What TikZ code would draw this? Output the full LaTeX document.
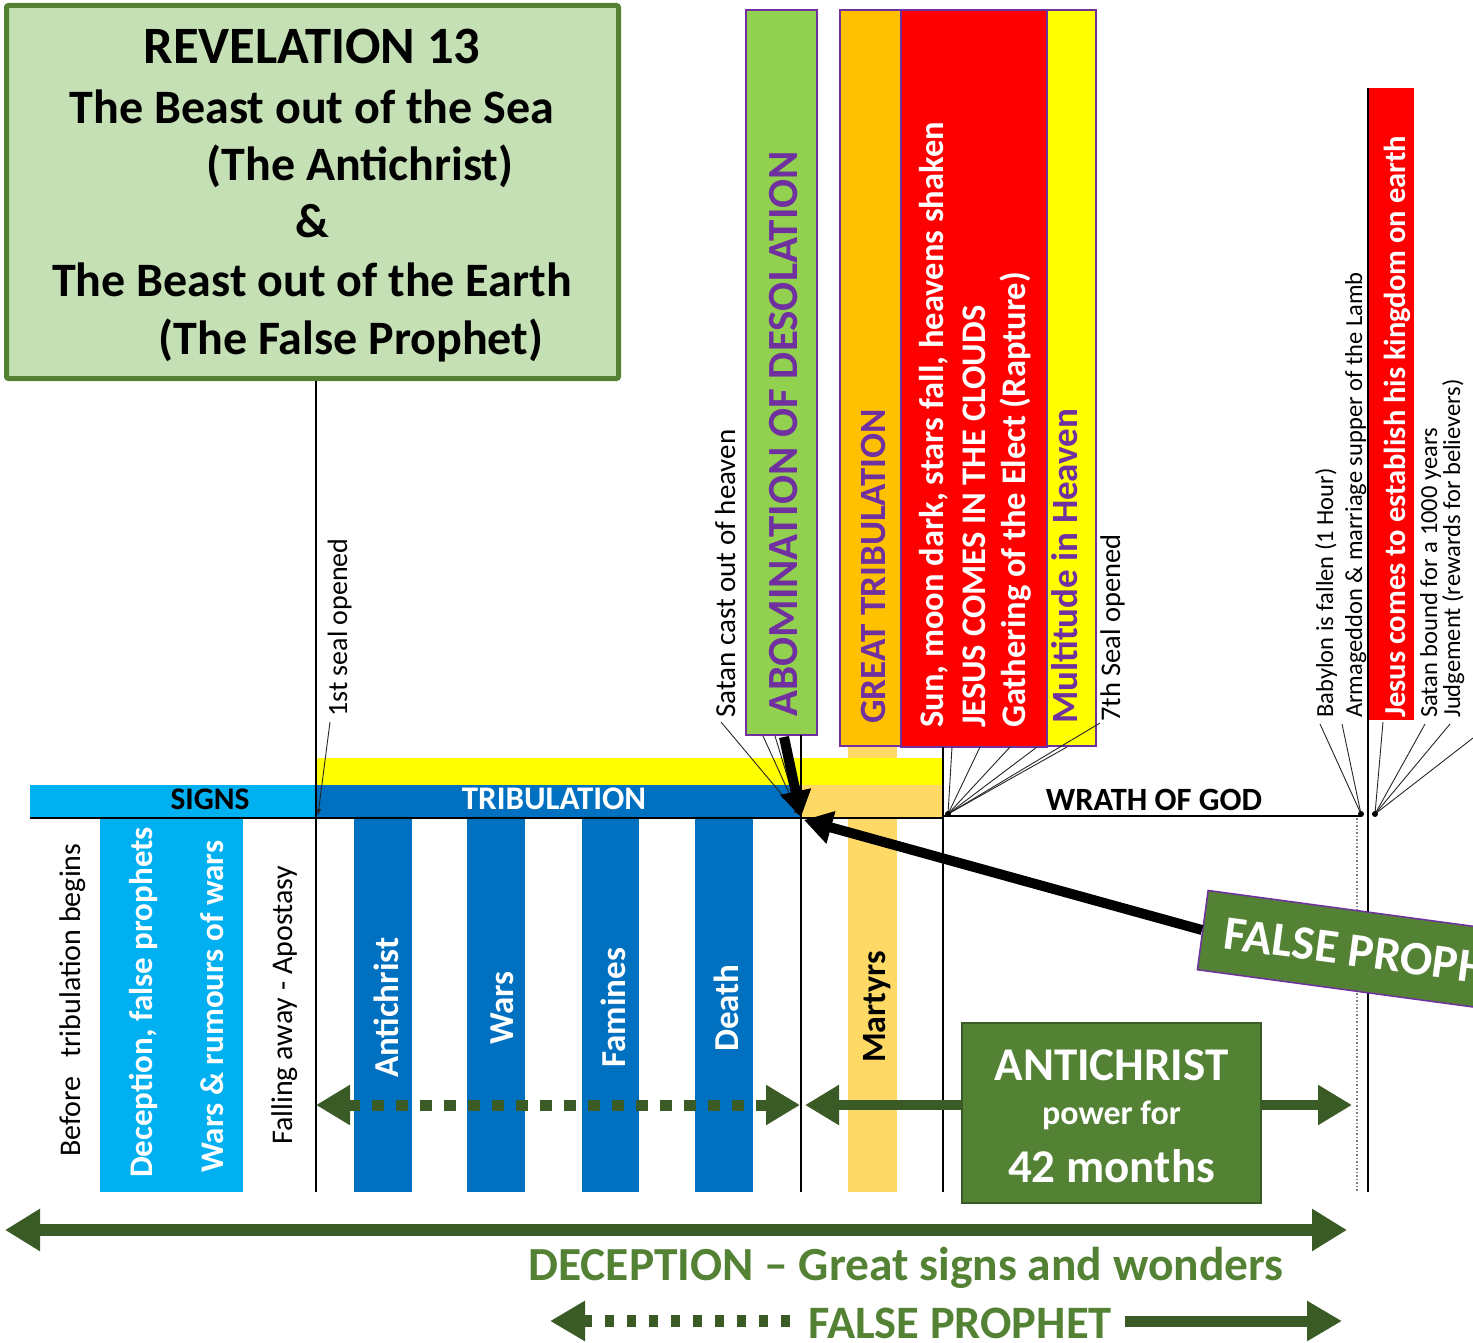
\documentclass[tikz,border=0pt]{standalone}
\usepackage{fontspec}
\setmainfont{Carlito}
\usetikzlibrary{arrows.meta}
\definecolor{sigblue}{HTML}{00B0F0}
\definecolor{tribblue}{HTML}{0070C0}
\definecolor{lorange}{HTML}{FFD966}
\definecolor{goldbox}{HTML}{FFC000}
\definecolor{abgreen}{HTML}{92D050}
\definecolor{purp}{HTML}{7030A0}
\definecolor{boxgreen}{HTML}{548235}
\definecolor{lgreen}{HTML}{C5E0B4}
\definecolor{dgreen}{HTML}{3A5A26}
\definecolor{txtgreen}{HTML}{548235}
\definecolor{redbox}{HTML}{FF0000}
\definecolor{yelbox}{HTML}{FFFF00}
\newcommand\fsz[1]{\fontsize{#1}{#1}\selectfont}
\begin{document}
\begin{tikzpicture}[x=1pt,y=-1pt,
  vlbl/.style={rotate=90,anchor=base west,inner sep=0pt},
  hlbl/.style={anchor=base,inner sep=0pt},
  ptr/.style={draw=black!85,line width=0.9pt},
  ptrtip/.style={ptr,-{Latex[length=6pt,width=5pt]}},
  vline/.style={draw=black,line width=2pt},
  colbox/.style={draw=purp,line width=1.5pt},
  bigarr/.style={draw=dgreen,line width=12pt},
  dotarr/.style={draw=dgreen,line width=11pt,dash pattern=on 12pt off 12pt}]
\useasboundingbox (0,0) rectangle (1473,1343);
\clip (0,0) rectangle (1473,1343);

% title box
\node[draw=boxgreen,line width=5pt,fill=lgreen,rounded corners=2pt,minimum width=612pt,minimum height=373pt,inner sep=0pt] (title) at (312.5,192) {};
\node[hlbl,font=\bfseries\fsz{52.5}] (t1) at (312,64) {REVELATION 13};
\node[hlbl,font=\bfseries\fsz{48}] (t2) at (312,124) {The Beast out of the Sea};
\node[hlbl,font=\bfseries\fsz{48}] (t3) at (360,181) {(The Antichrist)};
\node[hlbl,font=\bfseries\fsz{48}] (t4) at (312,238) {\&};
\node[hlbl,font=\bfseries\fsz{48}] (t5) at (312,297) {The Beast out of the Earth};
\node[hlbl,font=\bfseries\fsz{48}] (t6) at (351,354) {(The False Prophet)};

% top vertical boxes
\draw[colbox,fill=abgreen] (746,10) rectangle (817,735);
\draw[colbox,fill=goldbox] (840,10) rectangle (901,746);
\draw[colbox,fill=yelbox] (1047,10) rectangle (1096,746);
\draw[colbox,fill=redbox] (901,10) rectangle (1047,747);
\fill[redbox] (1369,88) rectangle (1414,720);

% bars and columns
\fill[lorange] (848,747) rectangle (897,1192);
\fill[yelbox] (316,758) rectangle (943,785);
\fill[sigblue] (30,785) rectangle (316,818);
\fill[tribblue] (316,785) rectangle (800,818);
\fill[lorange] (800,785) rectangle (943,818);
\fill[sigblue] (100,818) rectangle (243,1192);
\fill[tribblue] (354,818) rectangle (412,1192);
\fill[tribblue] (467,818) rectangle (525,1192);
\fill[tribblue] (582,818) rectangle (639,1192);
\fill[tribblue] (695,818) rectangle (753,1192);

% timeline lines
\draw[line width=2.5pt] (30,818) -- (943,818);
\draw[line width=2pt] (943,816) -- (1362,816);
\draw[vline] (title.south -| 316,0) -- (316,1192);
\draw[vline] (801,735) -- (801,1192);
\draw[vline] (943,747) -- (943,1192);
\draw[vline] (1368,88) -- (1368,1192);
\draw[gray,line width=1.5pt,dotted] (1357,818) -- (1357,1192);

% vertical labels top
\node[vlbl,font=\bfseries\fsz{43},text=purp] (abom) at (797,717) {ABOMINATION OF DESOLATION};
\node[vlbl,font=\bfseries\fsz{37},text=purp] (gtrib) at (885,724) {GREAT TRIBULATION};
\node[vlbl,font=\bfseries\fsz{34.5},text=white] (sun) at (943,728) {Sun, moon dark, stars fall, heavens shaken};
\node[vlbl,font=\bfseries\fsz{34.5},text=white] (jesus) at (985,728) {JESUS COMES IN THE CLOUDS};
\node[vlbl,font=\bfseries\fsz{34.5},text=white] (gath) at (1025,728) {Gathering of the Elect (Rapture)};
\node[vlbl,font=\bfseries\fsz{37},text=purp] (mult) at (1077,724) {Multitude in Heaven};
\node[vlbl,font=\fsz{29}] (satan) at (735,718) {Satan cast out of heaven};
\node[vlbl,font=\fsz{28.5}] (seal7) at (1120,722) {7th Seal opened};
\node[vlbl,font=\fsz{28}] (seal1) at (347,717) {1st seal opened};
\node[vlbl,font=\bfseries\fsz{30.5},text=white] (kingdom) at (1405,718) {Jesus comes to establish his kingdom on earth};
\node[vlbl,font=\fsz{24.5}] (babylon) at (1333,718) {Babylon is fallen (1 Hour)};
\node[vlbl,font=\fsz{24.5}] (armag) at (1362,718) {Armageddon \& marriage supper of the Lamb};
\node[vlbl,font=\fsz{24.5}] (bound) at (1437,718) {Satan bound for a 1000 years};
\node[vlbl,font=\fsz{24.5}] (judge) at (1460,718) {Judgement (rewards for believers)};

% bar labels
\node[hlbl,font=\bfseries\fsz{31.5}] (signs) at (210,809) {SIGNS};
\node[hlbl,font=\bfseries\fsz{33},text=white] (trib) at (554,809) {TRIBULATION};
\node[hlbl,font=\bfseries\fsz{32.5}] (wrath) at (1154,810) {WRATH OF GOD};

% lower vertical labels
\node[vlbl,font=\fsz{30}] (before) at (80,1157) {Before\hspace{12pt} tribulation begins};
\node[vlbl,font=\bfseries\fsz{33},text=white] (decep) at (152,1178) {Deception, false prophets};
\node[vlbl,font=\bfseries\fsz{33},text=white] (rumour) at (223,1173) {Wars \& rumours of wars};
\node[vlbl,font=\fsz{30}] (falling) at (292,1145) {Falling away - Apostasy};
\node[vlbl,font=\bfseries\fsz{35},text=white] (anti) at (398,1078) {Antichrist};
\node[vlbl,font=\bfseries\fsz{35},text=white] (wars) at (513,1045) {Wars};
\node[vlbl,font=\bfseries\fsz{35},text=white] (famines) at (625,1068) {Famines};
\node[vlbl,font=\bfseries\fsz{35},text=white] (death) at (738,1052) {Death};
\node[vlbl,font=\bfseries\fsz{34}] (martyrs) at (885,1063) {Martyrs};

% pointer lines
\coordinate (p1) at (318,815);
\coordinate (pab) at (799,815);
\coordinate (p7) at (948,814);
\coordinate (pA) at (1361,814);
\coordinate (pB) at (1375,814);
\draw[ptrtip] (330,722) -- (p1);
\draw[ptrtip] (721,722) -- (pab);
\draw[ptr] (763,736) -- (pab);
\draw[ptr] (775,736) -- (pab);
\foreach \xx/\yy in {952/747,980/747,1010/747,1037/747,1067/747,1100/723}
  \draw[ptr] (\xx,\yy) -- (p7);
\fill (p7) circle (3pt);
\foreach \xx in {1320,1342}
  \draw[ptr] (\xx,724) -- (pA);
\fill (pA) circle (3pt);
\foreach \xx/\yy in {1383/722,1425/724,1450/724,1473/738}
  \draw[ptr] (\xx,\yy) -- (pB);
\fill (pB) circle (3pt);

% False prophet rotated box
\node[draw=purp,line width=1.5pt,fill=boxgreen,rotate=-7.7,anchor=west,minimum height=80pt,inner xsep=22pt,
  font=\bfseries\fsz{48},text=white,align=left] (fpbox) at (1202,930) {FALSE PROPHET\hspace{30pt}};

% thick black arrows
\draw[line width=10pt,-{Triangle[length=26pt,width=30pt]}] (784,737) -- (801,817);
\draw[line width=10pt,-{Triangle[length=28pt,width=32pt]}] (fpbox.west) -- (804,820);

% Antichrist box
\node[draw=dgreen,line width=1.5pt,fill=boxgreen,minimum width=299pt,minimum height=180pt,inner sep=0pt] (acbox) at (1111.5,1113) {};
\node[hlbl,font=\bfseries\fsz{47},text=white] (ac1) at (1111.5,1080) {ANTICHRIST};
\node[hlbl,font=\bfseries\fsz{34},text=white] (ac2) at (1111.5,1124) {power for};
\node[hlbl,font=\bfseries\fsz{47},text=white] (ac3) at (1111.5,1182) {42 months};

% arrows row
\coordinate (dl) at (316,1105);
\coordinate (dr) at (800,1105);
\coordinate (sl) at (805,1105);
\coordinate (sr) at (1352,1105);
\draw[dotarr,{Triangle[length=34pt,width=38pt]}-{Triangle[length=34pt,width=38pt]}] (dl) -- (dr);
\draw[draw=dgreen,line width=10pt,{Triangle[length=34pt,width=38pt]}-] (sl) -- (acbox.west |- sl);
\draw[draw=dgreen,line width=10pt,-{Triangle[length=34pt,width=38pt]}] (acbox.east |- sr) -- (sr);

% deception arrow
\coordinate (bl) at (5,1230);
\coordinate (br) at (1347,1230);
\draw[bigarr,{Triangle[length=35pt,width=40pt]}-{Triangle[length=35pt,width=40pt]}] (bl) -- (br);
\node[hlbl,font=\bfseries\fsz{47.5},text=txtgreen] (decept) at (906,1280) {DECEPTION -- Great signs and wonders};

% false prophet bottom row
\node[hlbl,font=\bfseries\fsz{46.5},text=txtgreen] (fptxt) at (960,1338) {FALSE PROPHET};
\coordinate (fl) at (550,1321);
\coordinate (fr) at (1342,1321);
\draw[draw=dgreen,line width=12pt,dash pattern=on 9pt off 13pt,{Triangle[length=35pt,width=38pt]}-] (fl) -- (797,1321);
\draw[draw=dgreen,line width=11pt,-{Triangle[length=35pt,width=38pt]}] (1125,1321) -- (fr);
\end{tikzpicture}
\end{document}
